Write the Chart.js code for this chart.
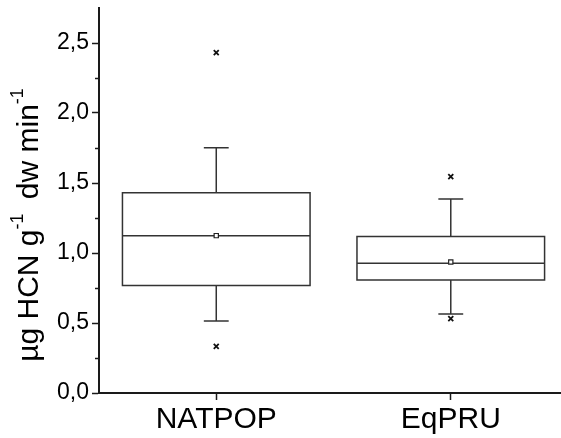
<!DOCTYPE html>
<html>
<head>
<meta charset="utf-8">
<script src="https://cdn.jsdelivr.net/npm/chart.js@4.4.1/dist/chart.umd.min.js"></script>
<style>
  html, body { margin: 0; padding: 0; background: #fff; }
  #wrap { width: 561px; height: 438px; position: relative; }
</style>
</head>
<body>
<div id="wrap"><canvas id="boxChart"></canvas></div>
<script>
// --- dati ---
const categories = ['NATPOP', 'EqPRU'];
const q1 = [0.767, 0.807];
const median = [1.124, 0.926];
const q3 = [1.431, 1.117];
const whiskerLow = [0.514, 0.564];
const whiskerHigh = [1.752, 1.386];
const means = [1.124, 0.936];
const outliersLow = [0.333, 0.531];
const outliersHigh = [2.431, 1.545];
const yTicks = [0, 0.5, 1, 1.5, 2, 2.5];
const yMinorTicks = [0.25, 0.75, 1.25, 1.75, 2.25];

const LINE = '#333';
const AXIS = '#1a1a1a';
const FONT = "'Liberation Sans', Arial, sans-serif";

// box, mediana e baffi disegnati con le scale di Chart.js
const boxPlugin = {
  id: 'boxPlot',
  beforeDatasetsDraw(chart) {
    const { ctx, scales: { x, y } } = chart;
    ctx.save();
    ctx.strokeStyle = LINE;
    ctx.lineWidth = 1.5;
    categories.forEach((c, i) => {
      const pos = i + 1;
      const xl = x.getPixelForValue(pos - 0.4);
      const xr = x.getPixelForValue(pos + 0.4);
      const xc = x.getPixelForValue(pos);
      const cl = x.getPixelForValue(pos - 0.053);
      const cr = x.getPixelForValue(pos + 0.053);
      const yq1 = y.getPixelForValue(q1[i]);
      const yq3 = y.getPixelForValue(q3[i]);
      const ymed = y.getPixelForValue(median[i]);
      const ylo = y.getPixelForValue(whiskerLow[i]);
      const yhi = y.getPixelForValue(whiskerHigh[i]);
      ctx.beginPath();
      ctx.rect(xl, yq3, xr - xl, yq1 - yq3);
      ctx.moveTo(xl, ymed); ctx.lineTo(xr, ymed);
      ctx.moveTo(xc, yq3); ctx.lineTo(xc, yhi);
      ctx.moveTo(cl, yhi); ctx.lineTo(cr, yhi);
      ctx.moveTo(xc, yq1); ctx.lineTo(xc, ylo);
      ctx.moveTo(cl, ylo); ctx.lineTo(cr, ylo);
      ctx.stroke();
    });
    ctx.restore();
  },
  afterDraw(chart) {
    const { ctx, scales: { y } } = chart;
    ctx.save();
    // tacche minori asse y
    ctx.strokeStyle = AXIS;
    ctx.lineWidth = 1.5;
    yMinorTicks.forEach(v => {
      const py = Math.round(y.getPixelForValue(v)) + 0.5;
      ctx.beginPath();
      ctx.moveTo(y.right - 4, py);
      ctx.lineTo(y.right, py);
      ctx.stroke();
    });
    // titolo asse y con apici
    const parts = [
      ['µg HCN g', false, 0], ['-1', true, 6], ['dw min', false, 0], ['-1', true, 0]
    ];
    const big = '30px ' + FONT, small = '18px ' + FONT;
    let total = 0;
    parts.forEach(([t, sup, gap]) => { ctx.font = sup ? small : big; total += ctx.measureText(t).width + gap; });
    ctx.font = big;
    total += ctx.measureText(' ').width;
    ctx.translate(38, 225);
    ctx.rotate(-Math.PI / 2);
    ctx.fillStyle = '#000';
    ctx.textBaseline = 'alphabetic';
    let px = -total / 2;
    parts.forEach(([t, sup, gap], k) => {
      ctx.font = sup ? small : big;
      ctx.fillText(t, px, sup ? -15 : 0);
      px += ctx.measureText(t).width + gap;
      if (k === 1) { ctx.font = big; px += ctx.measureText(' ').width; }
    });
    ctx.restore();
  }
};

window.addEventListener('DOMContentLoaded', () => {
  const ctx = document.getElementById('boxChart').getContext('2d');
  window.boxChart = new Chart(ctx, {
    type: 'scatter',
    data: {
      datasets: [
        {
          label: 'outlier',
          data: categories.flatMap((c, i) => [
            { x: i + 1, y: outliersLow[i] },
            { x: i + 1, y: outliersHigh[i] }
          ]),
          pointStyle: 'crossRot',
          pointRadius: 3.5,
          borderColor: '#111',
          borderWidth: 1.8
        },
        {
          label: 'media',
          data: categories.map((c, i) => ({ x: i + 1, y: means[i] })),
          pointStyle: 'rect',
          pointRadius: 3,
          backgroundColor: '#fff',
          borderColor: '#222',
          borderWidth: 1.2
        }
      ]
    },
    plugins: [boxPlugin],
    options: {
      responsive: true,
      maintainAspectRatio: false,
      animation: false,
      layout: { autoPadding: false, padding: { top: 8, right: 0, left: 0, bottom: 0 } },
      plugins: { legend: { display: false }, tooltip: { enabled: false } },
      scales: {
        x: {
          type: 'linear',
          min: 0.5,
          max: 2.47,
          afterBuildTicks: s => { s.ticks = categories.map((c, i) => ({ value: i + 1 })); },
          afterFit: s => { s.height = 45; s.paddingLeft = 0; s.paddingRight = 0; },
          ticks: {
            callback: v => categories[v - 1],
            font: { family: FONT, size: 30 },
            color: '#000',
            padding: 2,
            maxRotation: 0
          },
          grid: { drawOnChartArea: false, drawTicks: true, tickLength: 7, tickWidth: 1.5, tickColor: AXIS },
          border: { display: true, width: 2, color: AXIS }
        },
        y: {
          min: 0,
          max: 2.75,
          afterBuildTicks: s => { s.ticks = yTicks.map(v => ({ value: v })); },
          afterFit: s => { s.width = 99; s.paddingTop = 0; s.paddingBottom = 0; },
          ticks: {
            callback: v => v.toFixed(1).replace('.', ','),
            font: { family: FONT, size: 23 },
            color: '#000',
            padding: 3
          },
          grid: { drawOnChartArea: false, drawTicks: true, tickLength: 7, tickWidth: 1.5, tickColor: AXIS },
          border: { display: true, width: 2, color: AXIS }
        }
      }
    }
  });
});
</script>
</body>
</html>
